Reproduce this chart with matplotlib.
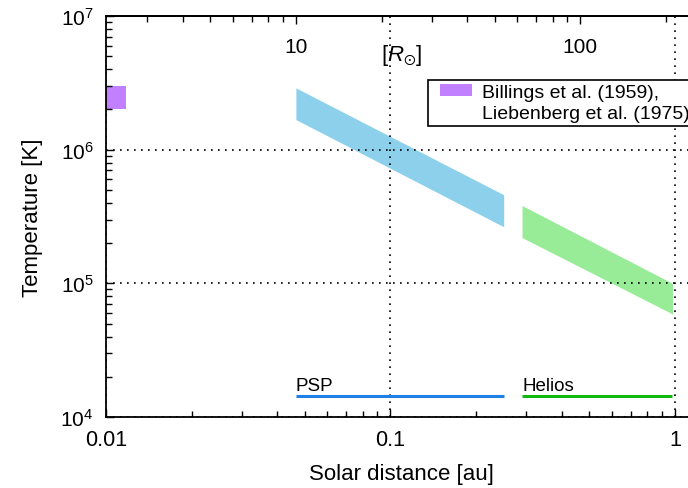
import numpy as np
import matplotlib
matplotlib.use('Agg')
import matplotlib.pyplot as plt
from matplotlib.patches import Patch, Rectangle
from matplotlib.legend_handler import HandlerPatch
from matplotlib.ticker import FuncFormatter, NullFormatter, FixedLocator

plt.rcParams['font.family'] = ['Liberation Sans', 'DejaVu Sans']
plt.rcParams['mathtext.fontset'] = 'custom'
plt.rcParams['mathtext.rm'] = 'Liberation Sans'
plt.rcParams['mathtext.it'] = 'Liberation Sans:italic'
plt.rcParams['mathtext.default'] = 'regular'

AU_RSUN = 215.03
CORONA_COLOR = '#c080ff'

# coronal temperature (Billings 1959, Liebenberg 1975)
corona_r = [0.01, 0.0118]
corona_T = [2.0e6, 3.0e6]

# PSP temperature band
psp_r = [0.0465, 0.25]
psp_T_low = [1.68e6, 2.65e5]
psp_T_high = [2.9e6, 4.6e5]

# Helios temperature band
helios_r = [0.29, 0.98]
helios_T_low = [2.2e5, 5.9e4]
helios_T_high = [3.82e5, 1.0e5]

# radial coverage of each mission
cover_T = 1.44e4

fig = plt.figure(figsize=(6.88, 4.89), dpi=100)
ax = fig.add_axes([106/688, 71/489, 591.5/688, 401/489])
ax.set_xscale('log')
ax.set_yscale('log')
ax.set_xlim(0.01, 1.2)
ax.set_ylim(1e4, 1e7)

ax.fill_between(corona_r, corona_T[0], corona_T[1], color=CORONA_COLOR, lw=0)
ax.fill_between(psp_r, psp_T_low, psp_T_high, color='#8dd0ec', lw=0)
ax.fill_between(helios_r, helios_T_low, helios_T_high, color='#98ec98', lw=0)

ax.plot(psp_r, [cover_T, cover_T], color='#1f80e8', lw=2.2, solid_capstyle='butt')
ax.plot(helios_r, [cover_T, cover_T], color='#12b812', lw=2.2, solid_capstyle='butt')
ax.annotate('PSP', xy=(psp_r[0], cover_T), xytext=(0, 4), textcoords='offset points',
            fontsize=13.5, va='baseline', ha='left')
ax.annotate('Helios', xy=(helios_r[0], cover_T), xytext=(0, 4), textcoords='offset points',
            fontsize=13.5, va='baseline', ha='left')

ax.grid(True, which='major', color='k', lw=1.2, ls=(0, (1, 3.2)))

ax.xaxis.set_major_formatter(FuncFormatter(lambda v, _: f'{v:g}'))
ax.xaxis.set_minor_formatter(NullFormatter())
ax.tick_params(which='both', direction='in', top=False, right=False, labelsize=15, width=1)
ax.tick_params(which='major', length=6, pad=9)
ax.tick_params(which='minor', length=4)
ax.tick_params(axis='x', labelsize=15.5)
for s in ax.spines.values():
    s.set_linewidth(1.3)

ax.set_xlabel('Solar distance [au]', fontsize=16)
ax.set_ylabel('Temperature [K]', fontsize=16)
ax.xaxis.set_label_coords(0.5, -0.115)
ax.yaxis.set_label_coords(-0.107, 0.5)

# solar radii on the top axis
sec = ax.secondary_xaxis('top', functions=(lambda r: r * AU_RSUN, lambda R: R / AU_RSUN))
sec.xaxis.set_major_locator(FixedLocator([10, 100]))
sec.xaxis.set_minor_locator(FixedLocator([3, 4, 5, 6, 7, 8, 9, 20, 30, 40, 50, 60, 70, 80, 90, 200]))
sec.xaxis.set_major_formatter(FuncFormatter(lambda v, _: f'{v:g}'))
sec.xaxis.set_minor_formatter(NullFormatter())
sec.tick_params(which='both', direction='in', labelsize=15, width=1)
sec.tick_params(which='major', length=6, pad=-28.5)
sec.tick_params(which='minor', length=4)
sec.spines['top'].set_linewidth(1.3)
fig.text(402/688, 1 - 56/489, r'[$\mathit{R}_{\odot}$]', fontsize=16, ha='center', va='center')


def inset_patch(legend, orig_handle, xdescent, ydescent, width, height, fontsize):
    # leave a gap before the swatch
    gap = 6
    return Rectangle((-xdescent + gap, -ydescent), width - gap, height)


swatch = Patch(color=CORONA_COLOR, lw=0)
# second line carries no patch
leg = ax.legend([swatch, Patch(visible=False)],
                ['Billings et al. (1959),', 'Liebenberg et al. (1975)'],
                handler_map={swatch: HandlerPatch(patch_func=inset_patch)},
                loc='upper left', bbox_to_anchor=((428-106)/591.5, (418-81)/401),
                borderaxespad=0, fontsize=14, handlelength=2.05, handleheight=0.52,
                fancybox=False, framealpha=1, edgecolor='k', borderpad=0.2,
                labelspacing=0.2, handletextpad=0.55)
leg.get_frame().set_linewidth(1.2)

fig.savefig('out.png', dpi=100)
